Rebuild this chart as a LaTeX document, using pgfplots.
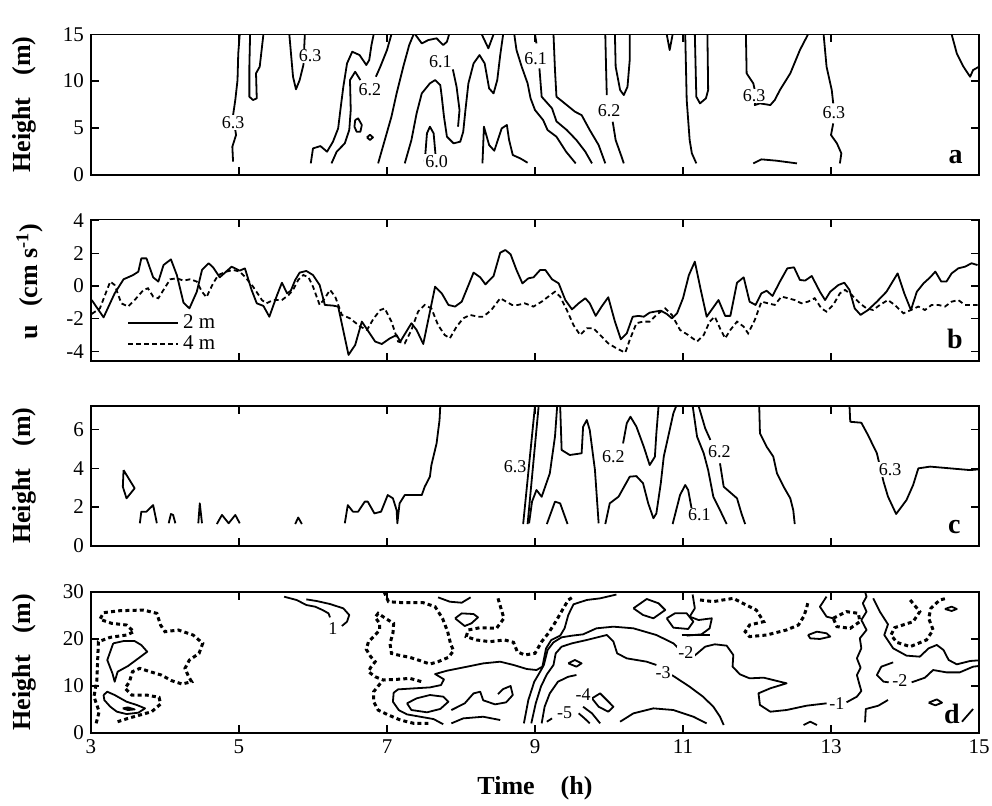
\documentclass[border=0pt]{standalone}
\usepackage{fontspec}
\setmainfont{Liberation Serif}
\usepackage{pgfplots}
\pgfplotsset{compat=1.18}
\begin{document}
\begin{tikzpicture}[
  cl/.style={line width=0.9pt, line join=round},
  dl/.style={line width=1.5pt, dash pattern=on 2pt off 1.6pt},
  lab/.style={font=\fontsize{9}{10}\selectfont, inner sep=0.6pt, fill=white},
  ttl/.style={font=\fontsize{11.5}{13}\selectfont\bfseries, anchor=base east, inner sep=0pt},
  let/.style={font=\fontsize{14}{15}\selectfont\bfseries, anchor=base east, inner sep=0pt},
]
\useasboundingbox (-45.5pt,17.15pt) rectangle (450.5pt,-385.35pt);
\pgfplotsset{
  panel/.style={
    scale only axis, width=444pt,
    xmin=3, xmax=15, xtick={3,5,7,9,11,13,15},
    tick align=inside,
    axis line style={line width=0.8pt},
    major tick style={line width=0.8pt, black},
    major tick length=4pt,
    tick label style={font=\fontsize{10.5}{12}\selectfont},
    /pgf/number format/assume math mode=true,
    ylabel style={font=\fontsize{13}{15}\selectfont\bfseries, anchor=south, inner sep=0pt, at={(axis description cs:-0.061,0.5)}},
  },
}
% ---------------- panel a ----------------
\begin{axis}[panel, at={(0pt,0pt)}, anchor=north west, height=70.2pt,
  ymin=0, ymax=15, ytick={0,5,10,15}, xticklabels={},
  ylabel={Height\hspace{0.85em}(m)}]
\addplot[cl] coordinates {(4.92,1.39)(4.91,2.99)(4.96,4.24)(4.92,6.37)(4.95,7.98)(4.98,10.11)(4.99,12.96)(5.01,15)};
\addplot[cl] coordinates {(5.15,15)(5.14,11.54)(5.14,8.33)(5.19,7.98)(5.24,8.16)(5.23,10.83)(5.28,11.54)(5.33,15)};
\addplot[cl] coordinates {(5.68,15)(5.73,10.47)(5.77,9.12)(5.82,10.11)(5.87,11.72)(5.89,15)};
\addplot[cl] coordinates {(5.97,1.21)(6.00,2.81)(6.10,3.06)(6.19,2.46)(6.27,3.53)(6.34,4.95)(6.37,6.91)(6.41,9.40)(6.46,11.89)(6.53,13.14)(6.63,12.78)(6.72,11.72)(6.76,12.25)(6.79,13.85)(6.82,15)};
\addplot[cl] coordinates {(6.25,1.21)(6.32,2.46)(6.43,3.35)(6.49,4.77)(6.51,6.91)(6.50,10.11)(6.57,11.00)(6.64,10.11)};
\addplot[cl] coordinates {(6.85,10.47)(6.91,11.54)(7.00,13.32)(7.06,15)};
\addplot[cl] coordinates {(6.57,5.84)(6.61,6.02)(6.66,5.31)(6.64,4.59)(6.59,4.59)(6.56,5.13)(6.57,5.84)};
\addplot[cl] coordinates {(6.73,3.99)(6.77,4.27)(6.81,3.99)(6.77,3.70)(6.73,3.99)};
\addplot[cl] coordinates {(6.88,1.21)(6.97,3.70)(7.06,6.20)(7.13,8.69)(7.22,11.54)(7.30,13.85)(7.36,15)};
\addplot[cl] coordinates {(7.38,15)(7.47,14.03)(7.56,14.39)(7.67,14.57)(7.76,13.85)(7.81,14.21)(7.84,15)};
\addplot[cl] coordinates {(7.24,1.21)(7.33,3.70)(7.40,6.55)(7.47,8.69)(7.58,9.76)(7.65,10.11)(7.72,9.58)(7.74,8.33)(7.77,6.20)(7.81,4.06)(7.90,3.35)(7.99,3.53)(8.03,4.59)(8.06,6.91)(8.10,9.76)(8.17,11.89)(8.25,12.78)(8.32,11.89)(8.38,9.22)(8.44,8.69)(8.49,10.11)(8.53,12.78)(8.57,15)};
\addplot[cl] coordinates {(7.89,11.25)(7.94,9.40)(7.98,6.91)(7.96,5.13)};
\addplot[cl] coordinates {(7.51,1.39)(7.54,4.42)(7.58,5.13)(7.63,4.42)(7.66,1.75)};
\addplot[cl] coordinates {(8.29,1.21)(8.31,5.13)(8.38,3.17)(8.45,2.56)(8.55,4.95)(8.62,5.31)(8.65,3.70)(8.70,2.10)(8.80,1.75)(8.90,1.28)};
\addplot[cl] coordinates {(8.28,15)(8.37,13.50)(8.44,15)};
\addplot[cl] coordinates {(8.72,15)(8.75,13.32)(8.82,11.54)(8.90,9.76)(8.94,8.16)(9.00,6.91)(9.11,5.84)(9.17,4.77)(9.29,4.06)(9.42,2.46)(9.55,1.21)};
\addplot[cl] coordinates {(9.00,15)(9.02,14.03)};
\addplot[cl] coordinates {(9.06,11.36)(9.09,8.33)(9.23,7.09)(9.29,5.70)(9.43,4.77)(9.56,3.70)(9.68,2.46)(9.77,1.21)};
\addplot[cl] coordinates {(9.25,15)(9.27,11.18)(9.29,8.33)(9.43,7.44)(9.54,6.73)(9.63,6.37)(9.74,4.77)(9.86,3.17)(9.95,1.21)};
\addplot[cl] coordinates {(9.95,15)(9.96,11.54)(9.97,8.51)};
\addplot[cl] coordinates {(10.05,5.66)(10.09,3.70)(10.17,1.92)(10.20,1.21)};
\addplot[cl] coordinates {(10.08,15)(10.09,11.54)(10.15,9.05)(10.20,8.51)(10.25,9.40)(10.28,12.25)(10.28,15)};
\addplot[cl] coordinates {(10.78,15)(10.82,13.32)(10.86,15)};
\addplot[cl] coordinates {(11.03,15)(11.05,7.98)(11.09,3.70)(11.12,2.28)(11.18,1.21)};
\addplot[cl] coordinates {(11.16,15)(11.18,8.33)(11.23,7.62)(11.31,8.16)(11.34,9.05)(11.33,15)};
\addplot[cl] coordinates {(11.85,15)(11.86,10.83)(11.95,9.76)(11.99,8.33)(11.97,7.44)(12.04,7.62)(12.18,7.44)(12.24,7.98)(12.31,9.05)(12.45,10.83)(12.58,13.32)(12.69,15)};
\addplot[cl] coordinates {(12.90,15)(12.94,11.54)(13.01,9.05)(13.03,7.62)};
\addplot[cl] coordinates {(13.03,5.48)(13.00,4.24)(13.08,3.35)(13.14,2.28)(13.12,1.21)};
\addplot[cl] coordinates {(11.95,1.21)(12.06,1.64)(12.26,1.50)(12.54,1.21)};
\addplot[cl] coordinates {(14.63,15)(14.70,12.96)(14.79,11.54)(14.88,10.47)(14.92,11.18)(15,11.54)};
\node[lab] at (axis cs:4.92,5.56) {6.3};
\node[lab] at (axis cs:5.96,12.68) {6.3};
\node[lab] at (axis cs:6.77,9.05) {6.2};
\node[lab] at (axis cs:7.72,12.07) {6.1};
\node[lab] at (axis cs:7.67,1.39) {6.0};
\node[lab] at (axis cs:9.01,12.43) {6.1};
\node[lab] at (axis cs:10.0,6.85) {6.2};
\node[lab] at (axis cs:11.96,8.40) {6.3};
\node[lab] at (axis cs:13.04,6.62) {6.3};
\node[ttl] at (rel axis cs:1,1) [xshift=-2pt, yshift=5pt] {Isotherms, 21 m};
\node[let] at (rel axis cs:1,0) [xshift=-8pt, yshift=5.7pt] {a};
\end{axis}
% ---------------- panel b ----------------
\begin{axis}[panel, at={(0pt,-92.5pt)}, anchor=north west, height=70.85pt,
  ymin=-4.59, ymax=4.08, ytick={-4,-2,0,2,4}, xticklabels={},
  ylabel={u\hspace{0.7em}(cm s\textsuperscript{-1})},
  ylabel style={at={(axis description cs:-0.054,0.56)}},
  legend style={draw=none, fill=none, at={(rel axis cs:0,0)}, anchor=south west, xshift=18pt, yshift=2pt,
    font=\fontsize{10.5}{11}\selectfont, row sep=-2pt, inner sep=0pt, cells={anchor=west}},
  legend image code/.code={\draw[#1] (0pt,0pt) -- (25pt,0pt);}]
\addplot[line width=0.9pt, line join=round] coordinates {(3.01,-0.86)(3.17,-1.92)(3.32,-0.45)(3.44,0.41)(3.57,0.67)(3.64,0.88)(3.68,1.69)(3.75,1.69)(3.84,0.53)(3.91,0.27)(3.98,1.28)(4.08,1.63)(4.16,0.67)(4.25,-1.02)(4.33,-1.37)(4.43,-0.35)(4.50,0.98)(4.59,1.39)(4.65,1.14)(4.74,0.53)(4.90,1.18)(5.01,0.94)(5.08,1.08)(5.17,-0.24)(5.24,-1.06)(5.33,-1.22)(5.41,-1.88)(5.51,-0.61)(5.58,0.20)(5.65,-0.45)(5.70,-0.29)(5.76,0.37)(5.82,0.82)(5.91,0.92)(6.00,0.67)(6.09,0.06)(6.16,-1.16)(6.27,-1.20)(6.34,-1.26)(6.48,-4.22)(6.57,-3.61)(6.66,-2.18)(6.75,-2.79)(6.84,-3.40)(6.93,-3.55)(7.04,-3.20)(7.13,-3.00)(7.18,-3.40)(7.33,-2.28)(7.40,-2.69)(7.49,-3.55)(7.65,-0.04)(7.74,-0.45)(7.83,-1.16)(7.92,-1.26)(8.01,-0.96)(8.17,0.82)(8.26,0.53)(8.33,0.10)(8.44,0.61)(8.53,2.04)(8.60,2.20)(8.67,1.94)(8.75,0.98)(8.83,0.16)(8.91,0.47)(8.98,0.53)(9.07,0.98)(9.14,0.98)(9.23,0.41)(9.32,0.16)(9.41,-0.86)(9.50,-1.43)(9.59,-1.06)(9.68,-0.75)(9.74,-1.06)(9.82,-1.83)(9.90,-1.26)(9.99,-0.69)(10.08,-2.18)(10.16,-3.26)(10.24,-2.90)(10.32,-1.88)(10.40,-1.83)(10.47,-1.88)(10.55,-1.63)(10.62,-1.57)(10.70,-1.51)(10.78,-1.71)(10.85,-1.98)(10.92,-1.67)(11.00,-0.75)(11.08,0.67)(11.16,1.49)(11.24,-0.24)(11.32,-1.88)(11.40,-1.37)(11.48,-0.86)(11.57,-1.83)(11.64,-1.83)(11.73,0.20)(11.82,0.53)(11.90,-0.96)(11.98,-1.16)(12.06,-0.45)(12.13,-0.29)(12.21,-0.61)(12.31,0.27)(12.41,1.08)(12.50,1.14)(12.58,0.37)(12.65,0.33)(12.74,0.61)(12.85,-0.35)(12.92,-0.86)(12.99,-0.35)(13.10,0.06)(13.18,0.20)(13.25,-0.24)(13.32,-1.37)(13.40,-1.77)(13.50,-1.47)(13.62,-0.96)(13.75,-0.35)(13.90,0.77)(13.99,-0.45)(14.08,-1.47)(14.16,-0.35)(14.25,0.16)(14.34,0.53)(14.41,0.88)(14.49,0.27)(14.56,0.27)(14.63,0.77)(14.72,1.08)(14.81,1.18)(14.90,1.39)(14.98,1.28)};
\addlegendentry{2 m}
\addplot[line width=0.9pt, dash pattern=on 2.4pt off 1.6pt] coordinates {(3.01,-1.71)(3.12,-1.37)(3.26,0.27)(3.32,0.06)(3.41,-1.06)(3.50,-1.26)(3.59,-0.86)(3.71,-0.24)(3.77,-0.14)(3.84,-0.65)(3.91,-0.75)(3.98,-0.24)(4.07,0.41)(4.16,0.47)(4.25,0.33)(4.34,0.41)(4.43,0.27)(4.50,-0.35)(4.56,-0.69)(4.65,0.16)(4.72,0.67)(4.83,0.88)(4.92,0.98)(5.01,0.88)(5.08,0.57)(5.19,-0.04)(5.31,-0.86)(5.37,-1.06)(5.46,-0.86)(5.58,-0.86)(5.67,-0.55)(5.73,-0.24)(5.80,0.37)(5.87,0.67)(5.94,0.53)(6.00,-0.04)(6.09,-1.16)(6.16,-0.75)(6.23,-0.24)(6.30,-0.65)(6.39,-1.77)(6.50,-1.98)(6.64,-2.49)(6.73,-2.69)(6.82,-1.98)(6.91,-1.47)(6.97,-1.37)(7.06,-2.18)(7.15,-3.40)(7.24,-3.51)(7.33,-2.69)(7.42,-1.57)(7.51,-1.16)(7.60,-1.37)(7.69,-2.39)(7.78,-3.00)(7.85,-3.20)(7.94,-2.49)(8.03,-1.98)(8.12,-1.77)(8.23,-1.88)(8.30,-1.88)(8.41,-1.47)(8.53,-0.75)(8.69,-1.16)(8.77,-1.16)(8.86,-1.06)(8.98,-1.26)(9.09,-0.96)(9.18,-0.65)(9.27,-0.35)(9.34,-0.65)(9.43,-1.47)(9.52,-2.39)(9.61,-3.00)(9.70,-2.59)(9.79,-2.59)(9.88,-3.00)(9.99,-3.51)(10.10,-3.81)(10.22,-4.08)(10.28,-3.30)(10.37,-2.28)(10.46,-2.18)(10.55,-2.18)(10.64,-1.77)(10.76,-1.37)(10.85,-1.77)(10.96,-2.69)(11.07,-3.00)(11.19,-3.40)(11.28,-3.00)(11.36,-2.18)(11.43,-1.88)(11.50,-2.59)(11.57,-3.20)(11.64,-2.69)(11.73,-2.18)(11.82,-2.49)(11.88,-2.90)(11.97,-2.08)(12.06,-0.96)(12.15,-1.06)(12.24,-1.16)(12.33,-0.65)(12.42,-0.75)(12.51,-0.86)(12.60,-1.06)(12.69,-0.96)(12.78,-0.75)(12.87,-1.37)(12.94,-1.57)(13.03,-1.16)(13.12,-0.45)(13.19,-0.24)(13.28,-0.55)(13.39,-1.06)(13.48,-1.37)(13.57,-1.47)(13.66,-1.16)(13.77,-0.86)(13.86,-1.16)(13.98,-1.67)(14.08,-1.47)(14.18,-1.26)(14.27,-1.47)(14.36,-1.16)(14.45,-1.16)(14.54,-1.26)(14.63,-0.96)(14.72,-0.86)(14.81,-1.16)(14.90,-1.16)(14.98,-1.16)};
\addlegendentry{4 m}
\node[ttl] at (rel axis cs:1,1) [xshift=-4.5pt, yshift=4.6pt] {ACM, 21 m};
\node[let] at (rel axis cs:1,0) [xshift=-8pt, yshift=6.3pt] {b};
\end{axis}
% ---------------- panel c ----------------
\begin{axis}[panel, at={(0pt,-185.7pt)}, anchor=north west, height=70pt,
  ymin=0, ymax=7.24, ytick={0,2,4,6}, xticklabels={},
  ylabel={Height\hspace{0.85em}(m)}]
\addplot[cl] coordinates {(3.44,3.91)(3.43,3.05)(3.48,2.45)(3.59,2.97)(3.44,3.91)};
\addplot[cl] coordinates {(3.66,1.16)(3.68,1.76)(3.75,1.76)(3.84,2.10)(3.89,1.16)};
\addplot[cl] coordinates {(4.05,1.16)(4.08,1.64)(4.11,1.59)(4.14,1.16)};
\addplot[cl] coordinates {(4.45,1.16)(4.47,2.19)(4.50,1.16)};
\addplot[cl] coordinates {(4.70,1.12)(4.77,1.59)(4.86,1.16)(4.95,1.59)(5.01,1.16)};
\addplot[cl] coordinates {(5.76,1.12)(5.80,1.46)(5.85,1.12)};
\addplot[cl] coordinates {(6.43,1.16)(6.47,2.10)(6.54,1.76)(6.61,1.76)(6.70,2.28)(6.74,2.28)(6.83,1.67)(6.92,1.76)(7.01,2.62)(7.08,2.45)(7.13,1.84)(7.14,1.16)(7.17,2.19)(7.24,2.62)(7.47,2.62)(7.51,3.05)(7.58,3.57)(7.60,4.17)(7.67,5.29)(7.71,6.50)(7.72,7.24)};
\addplot[cl] coordinates {(8.84,1.12)(9.00,7.24)};
\addplot[cl] coordinates {(8.90,1.12)(9.05,7.24)};
\addplot[cl] coordinates {(8.92,1.16)(8.96,2.28)(9.02,2.88)(9.09,2.53)(9.20,3.74)(9.27,5.64)(9.30,7.24)};
\addplot[cl] coordinates {(9.16,1.12)(9.27,2.28)(9.34,2.19)(9.44,1.12)};
\addplot[cl] coordinates {(9.34,7.24)(9.36,4.95)(9.47,4.69)(9.63,4.78)(9.65,6.15)(9.70,6.50)(9.74,5.98)(9.81,3.92)(9.86,1.16)};
\addplot[cl] coordinates {(9.95,1.12)(10.01,2.19)(10.13,2.54)(10.28,3.57)(10.37,3.60)(10.46,3.23)(10.53,2.19)(10.60,1.42)(10.64,1.67)(10.70,3.23)(10.74,4.61)(10.80,5.64)(10.87,6.85)(10.91,7.24)};
\addplot[cl] coordinates {(10.19,5.29)(10.24,6.33)(10.29,6.67)(10.37,6.16)(10.47,5.12)(10.55,4.17)(10.62,4.60)(10.64,5.81)(10.67,7.24)};
\addplot[cl] coordinates {(10.86,1.12)(10.96,2.62)(11.03,3.14)(11.07,2.88)(11.12,1.84)};
\addplot[cl] coordinates {(11.13,7.24)(11.19,5.64)(11.28,4.78)(11.34,3.91)(11.41,2.53)(11.50,1.84)(11.59,1.12)};
\addplot[cl] coordinates {(11.21,7.24)(11.30,6.07)(11.37,5.47)};
\addplot[cl] coordinates {(11.50,4.26)(11.55,3.05)(11.73,2.45)(11.79,1.67)(11.84,1.12)};
\addplot[cl] coordinates {(12.03,7.24)(12.04,5.81)(12.13,5.12)(12.22,4.61)(12.27,3.74)(12.36,3.05)(12.45,2.45)(12.49,1.84)(12.51,1.12)};
\addplot[cl] coordinates {(13.25,7.24)(13.26,6.41)(13.41,6.36)(13.50,5.72)(13.62,4.78)(13.71,3.31)(13.77,2.54)(13.88,1.64)(14.02,2.36)(14.11,3.14)(14.18,4.00)(14.34,4.09)(14.61,4.00)(14.88,3.91)(15,3.95)};
\node[lab] at (axis cs:8.73,4.09) {6.3};
\node[lab] at (axis cs:10.06,4.6) {6.2};
\node[lab] at (axis cs:11.22,1.59) {6.1};
\node[lab] at (axis cs:11.49,4.86) {6.2};
\node[lab] at (axis cs:13.80,3.95) {6.3};
\node[ttl] at (rel axis cs:1,1) [xshift=-3pt, yshift=4.5pt] {Isotherms, 55 m};
\node[let] at (rel axis cs:1,0) [xshift=-9pt, yshift=6.2pt] {c};
\end{axis}
% ---------------- panel d ----------------
\begin{axis}[panel, at={(0pt,-278.7pt)}, anchor=north west, height=70.5pt,
  ymin=0, ymax=30, ytick={0,10,20,30},
  ylabel={Height\hspace{0.85em}(m)},
  xlabel={Time\hspace{1em}(h)},
  xlabel style={font=\fontsize{13}{15}\selectfont\bfseries, inner sep=0pt, at={(axis description cs:0.5,0)}, anchor=north, yshift=-21.5pt}]
\addplot[dl] coordinates {(3.07,2.0)(3.11,4.47)(3.04,7.66)(3.08,11.21)(3.09,15.46)(3.10,19.36)(3.26,20.29)(3.48,20.78)(3.58,21.49)(3.48,22.91)(3.28,23.27)(3.12,24.12)(3.17,25.54)(3.39,25.96)(3.71,26.10)(3.89,25.39)(3.94,22.91)(4.00,21.49)(4.18,21.85)(4.38,20.78)(4.51,19.01)(4.46,16.88)(4.33,15.46)(4.27,13.69)(4.32,11.91)(4.36,10.85)(4.23,10.36)(4.09,11.07)(3.95,12.27)(3.80,12.98)(3.66,13.69)(3.56,12.98)(3.52,10.85)(3.46,9.43)(3.55,8.02)(3.75,8.02)(3.92,7.52)(3.94,6.10)(3.82,4.47)(3.66,3.76)(3.50,3.05)(3.36,2.34)};
\addplot[cl] coordinates {(3.30,19.01)(3.22,15.46)(3.29,12.62)(3.32,10.85)(3.36,12.98)(3.50,14.19)(3.64,15.82)(3.76,17.23)(3.68,18.65)(3.59,19.50)(3.44,19.50)(3.30,19.01)};
\addplot[cl] coordinates {(3.17,8.02)(3.22,8.72)(3.32,8.02)(3.48,6.60)(3.62,5.89)(3.73,5.18)(3.64,4.26)(3.48,3.97)(3.35,4.47)(3.26,5.54)(3.18,6.95)(3.17,8.02)};
\addplot[cl, fill=black] coordinates {(3.43,5.18)(3.50,5.39)(3.59,4.96)(3.50,4.82)(3.43,5.18)};
\addplot[cl] coordinates {(5.61,28.94)(5.78,28.23)(5.91,27.17)(6.03,26.81)(6.13,26.10)(6.21,25.39)(6.23,24.54)};
\addplot[cl] coordinates {(5.91,28.37)(6.05,28.02)(6.23,27.38)(6.41,26.46)(6.49,25.04)(6.46,23.62)(6.39,22.70)};
\addplot[dl] coordinates {(6.96,30)(7.02,27.87)(7.22,27.66)(7.49,27.66)(7.65,26.81)(7.75,24.33)(7.82,21.49)(7.86,18.87)(7.90,17.45)(7.83,16.03)(7.69,15.11)(7.58,14.61)(7.45,15.32)(7.31,16.03)(7.15,16.53)(7.06,16.88)(7.04,19.01)(7.08,21.14)(7.09,23.27)(7.00,24.12)(6.88,25.39)(6.84,24.54)(6.90,23.27)(6.90,21.85)(6.84,20.78)(6.75,19.36)(6.72,17.73)(6.78,16.17)(6.84,15.11)(6.78,13.90)(6.75,12.98)(6.84,11.91)(6.95,11.21)(7.13,11.35)(7.31,11.56)(7.47,10.85)};
\addplot[dl] coordinates {(6.91,10.50)(6.82,8.72)(6.82,6.60)(6.88,4.82)(7.02,3.76)(7.18,2.70)(7.36,2.00)(7.56,2.00)};
\addplot[dl] coordinates {(8.50,28.59)(8.58,24.34)(8.48,22.21)(8.26,22.35)(8.10,21.86)(8.07,20.44)(8.21,19.73)(8.39,19.37)(8.59,19.73)(8.71,19.23)(8.76,17.25)(8.86,16.54)(9.00,16.89)(9.09,19.37)(9.18,21.15)(9.28,23.63)(9.37,26.11)(9.45,28.24)(9.52,28.95)};
\addplot[cl] coordinates {(7.69,28.80)(7.85,27.87)(8.01,27.66)(8.13,28.80)};
\addplot[cl] coordinates {(7.92,24.33)(8.01,25.39)(8.17,25.25)(8.23,24.54)(8.14,23.27)(8.05,22.70)(7.92,24.33)};
\addplot[cl] coordinates {(7.76,1.8)(7.63,2.9)(7.45,3.4)(7.27,3.9)(7.16,4.8)(7.08,6.6)(7.09,8.5)(7.15,9.22)(7.36,9.43)(7.58,9.64)(7.73,10.14)(7.77,11.35)(7.65,12.48)(7.81,13.19)(8.08,14.04)(8.30,14.75)(8.53,15.11)(8.71,14.41)(8.89,13.55)(9.02,13.34)(9.10,14.05)(9.15,17.96)(9.22,19.73)(9.34,20.65)(9.40,22.21)(9.45,25.05)(9.52,27.32)(9.70,28.24)(9.88,28.59)(10.1,29.4)};
\addplot[cl] coordinates {(8.85,1.99)(8.91,6.95)(8.99,10.85)(9.07,12.99)(9.12,14.41)(9.17,17.60)(9.25,19.23)(9.36,20.30)(9.50,20.65)(9.65,20.93)(9.83,22.21)(10.06,22.56)(10.33,22.21)(10.64,20.79)(10.87,19.02)(10.94,17.96)};
\addplot[cl] coordinates {(8.95,1.99)(9.01,6.24)(9.08,9.80)(9.16,12.42)(9.25,14.41)(9.28,16.89)(9.36,18.31)(9.50,19.02)(9.70,19.73)(9.97,20.79)(10.06,19.38)(10.11,16.89)(10.24,15.82)(10.51,15.11)(10.64,14.41)};
\addplot[cl] coordinates {(10.85,12.27)(11.09,9.79)(11.27,7.67)(11.41,5.54)(11.50,3.41)(11.55,1.64)};
\addplot[cl] coordinates {(9.09,1.99)(9.13,5.53)(9.20,8.37)(9.31,10.85)(9.45,11.91)(9.56,12.28)};
\addplot[cl] coordinates {(9.16,2.34)(9.23,3.05)};
\addplot[cl] coordinates {(9.59,4.12)(9.67,3.05)(9.74,1.99)};
\addplot[cl] coordinates {(9.65,5.53)(9.77,4.12)(9.88,1.99)};
\addplot[cl] coordinates {(9.45,14.76)(9.54,15.47)(9.63,14.76)(9.56,14.05)(9.45,14.76)};
\addplot[cl] coordinates {(9.77,7.31)(9.88,8.37)(10.06,5.53)(9.99,4.47)(9.86,5.53)(9.77,7.31)};
\addplot[cl] coordinates {(10.15,2.34)(10.33,4.12)(10.60,5.18)(10.87,4.83)(11.14,3.41)(11.32,1.99)};
\addplot[cl] coordinates {(7.27,6.25)(7.40,7.31)(7.58,8.02)(7.76,7.67)(7.83,6.60)(7.72,5.05)(7.54,4.34)(7.33,4.83)(7.27,6.25)};
\addplot[cl] coordinates {(7.87,4.82)(8.05,6.24)(8.17,8.37)(8.26,8.72)(8.30,6.9)(8.46,6.03)(8.61,6.46)(8.70,8.02)(8.67,9.94)(8.57,9.29)(8.50,8.2)};
\addplot[cl] coordinates {(7.87,1.99)(8.03,3.05)(8.30,3.40)(8.53,2.70)};
\addplot[cl] coordinates {(10.33,26.47)(10.51,28.45)(10.67,27.53)(10.76,26.11)(10.60,24.34)(10.46,25.05)(10.33,26.47)};
\addplot[cl] coordinates {(10.78,24.34)(10.89,25.40)(11.05,25.40)(11.14,23.63)(11.07,22.07)(10.87,22.35)(10.78,24.34)};
\addplot[cl] coordinates {(10.98,20.79)(11.36,20.79)};
\addplot[cl] coordinates {(11.13,29.4)(11.16,26.47)(11.09,24.69)(11.21,23.98)(11.39,24.34)(11.36,22.21)(11.25,20.93)(11.05,20.65)};
\addplot[cl] coordinates {(11.14,16.18)(11.30,18.31)(11.43,18.81)(11.59,18.52)(11.68,16.54)(11.67,14.05)(11.77,12.42)(11.90,11.57)(12.09,11.71)(12.40,10.51)(12.18,9.45)(12.02,8.38)(12.04,5.90)(12.18,4.47)(12.40,4.83)(12.67,5.75)(12.94,6.25)};
\addplot[cl] coordinates {(13.21,6.47)(13.35,7.67)(13.41,8.88)(13.38,10.51)(13.35,12.28)(13.40,13.84)(13.35,15.83)(13.41,17.96)(13.39,20.08)(13.48,21.86)(13.41,23.98)(13.48,25.76)(13.43,27.53)(13.48,28.95)(13.46,30)};
\addplot[cl] coordinates {(13.57,28.59)(13.66,25.76)(13.77,23.06)(13.72,20.79)(13.84,17.96)(14.02,16.40)(14.20,16.18)(14.32,17.96)(14.43,18.67)(14.52,17.60)(14.59,15.47)(14.70,14.55)(14.88,15.26)(15,15.4)};
\addplot[cl] coordinates {(13.84,14.97)(13.68,14.05)(13.62,12.28)(13.71,10.87)(13.78,10.72)};
\addplot[cl] coordinates {(14.09,10.72)(14.27,11.71)(14.38,13.34)(14.56,12.84)(14.74,12.84)(14.92,14.05)(15,14.2)};
\addplot[cl] coordinates {(14.32,6.39)(14.43,7.10)(14.50,6.39)(14.41,5.82)(14.32,6.39)};
\addplot[cl] coordinates {(13.46,2.20)(13.47,5.04)(13.64,5.75)(13.77,6.96)};
\addplot[cl] coordinates {(12.63,1.63)(12.72,2.34)(12.81,1.63)};
\addplot[cl] coordinates {(14.77,2.34)(14.92,5.04)};
\addplot[cl] coordinates {(14.54,26.32)(14.63,26.82)(14.70,26.32)(14.63,25.90)(14.54,26.32)};
\addplot[cl] coordinates {(12.94,28.95)(12.85,26.82)(12.94,24.69)(13.03,24.34)};
\addplot[cl] coordinates {(12.69,20.79)(12.81,21.50)(12.94,21.15)(12.99,20.44)(12.85,19.94)(12.72,20.08)(12.69,20.79)};
\addplot[dl] coordinates {(11.23,28.24)(11.41,27.89)(11.54,28.24)(11.68,28.59)(11.81,27.53)(11.99,26.11)(12.09,23.63)(11.90,22.92)(11.84,21.50)(11.90,20.44)(12.13,20.79)(12.40,21.86)(12.56,22.92)(12.63,24.69)(12.67,26.47)(12.69,27.89)};
\addplot[dl] coordinates {(14.07,28.24)(14.20,25.76)(14.11,23.63)(13.86,22.35)(13.81,20.79)(13.89,19.23)(14.07,18.31)(14.29,19.73)(14.38,21.86)(14.32,24.34)(14.35,26.47)(14.47,28.24)(14.56,28.59)};
\addplot[dl] coordinates {(13.03,24.34)(13.21,25.76)(13.37,25.40)(13.39,23.63)(13.26,22.21)(13.08,22.57)(13.03,24.34)};
\node[lab] at (axis cs:6.27,22.06) {1};
\node[lab] at (axis cs:11.04,17.0) {-2};
\node[lab] at (axis cs:10.73,12.7) {-3};
\node[lab] at (axis cs:9.65,8.2) {-4};
\node[lab] at (axis cs:9.40,4.3) {-5};
\node[lab] at (axis cs:13.08,6.3) {-1};
\node[lab] at (axis cs:13.93,11.0) {-2};
\node[ttl] at (rel axis cs:1,1) [xshift=-8pt, yshift=5.8pt] {ADCP, ACM, 55 m};
\node[let] at (rel axis cs:1,0) [xshift=-9.5pt, yshift=4.7pt] {d};
\end{axis}
\end{tikzpicture}
\end{document}
